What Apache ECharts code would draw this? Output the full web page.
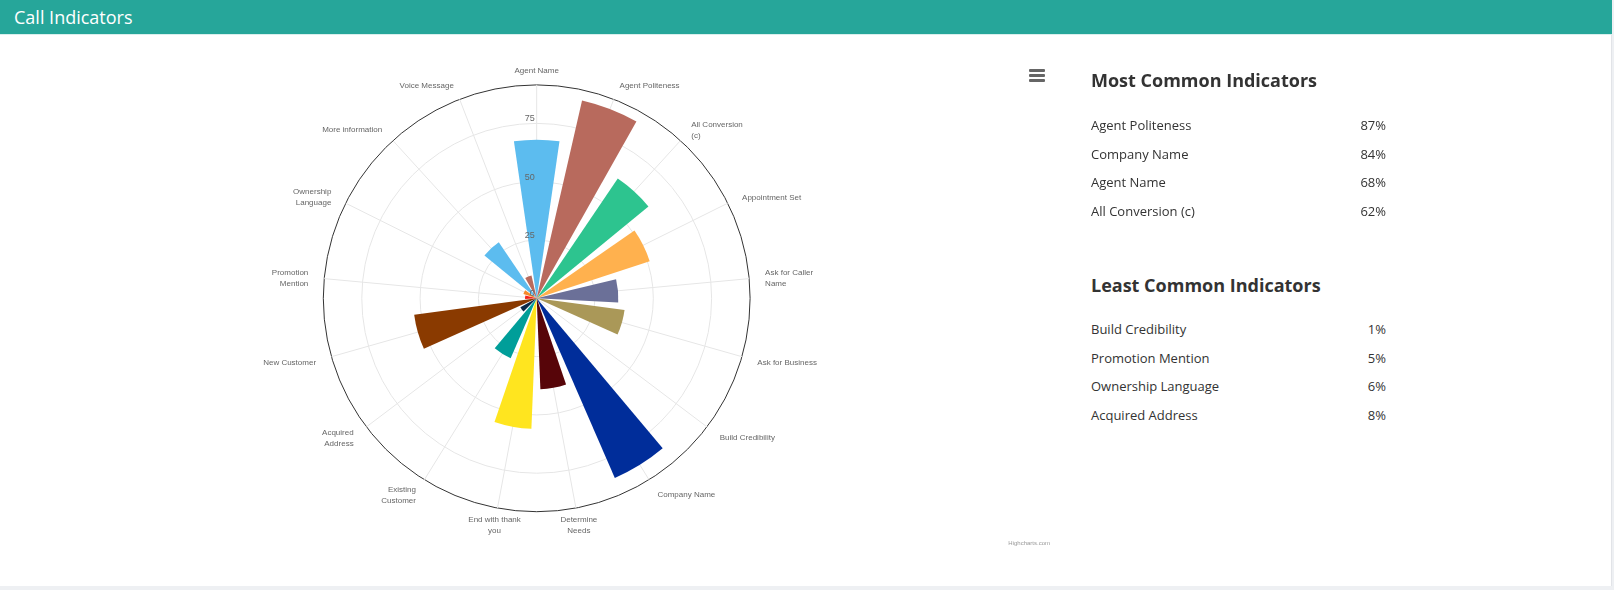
<!DOCTYPE html>
<html>
<head>
<meta charset="utf-8">
<script src="https://cdn.jsdelivr.net/npm/echarts@6/dist/echarts.min.js"></script>
<style>
  html, body { margin: 0; padding: 0; }
  body { width: 1614px; height: 590px; background: #eef0f3; position: relative; overflow: hidden; font-family: "Open Sans", sans-serif; }
  #panel { position: absolute; left: 0; top: 0; width: 1611px; height: 586px; background: #fff; border-right: 1px solid #e2e4e8; }
  #header { position: absolute; left: 0; top: 0; width: 1612px; height: 34px; background: #26a69a; border-bottom: 1px solid #d9efed; }
  #header span { position: absolute; left: 14px; top: 0; line-height: 34px; font-size: 18px; color: #fff; font-family: "Open Sans", sans-serif; }
  #chart { position: absolute; left: 0; top: 0; width: 1060px; height: 586px; }
  #menu { position: absolute; left: 1029px; top: 69px; width: 16px; }
  #menu div { height: 2.5px; background: #666; margin-bottom: 2.5px; border-radius: 1px; }
  .sec h3 { position: absolute; left: 1091px; margin: 0; font-size: 18px; line-height: 24px; font-weight: 700; color: #333; white-space: nowrap; }
  .sec .list { position: absolute; left: 1091px; width: 295px; }
  .row { display: flex; justify-content: space-between; font-size: 13px; line-height: 28.7px; color: #333; }
</style>
</head>
<body>
<div id="panel"></div>
<div id="chart"></div>
<div id="header"><span>Call Indicators</span></div>
<div id="menu"><div></div><div></div><div></div></div>
<div class="sec"><h3 id="h1" style="top:68px">Most Common Indicators</h3><div class="list" id="mostList" style="top:111px"></div></div>
<div class="sec"><h3 id="h2" style="top:273px">Least Common Indicators</h3><div class="list" id="leastList" style="top:315px"></div></div>
<script>
// ---- data ----
const categories = ['Agent Name', 'Agent Politeness', 'All Conversion (c)', 'Appointment Set', 'Ask for Caller Name', 'Ask for Business', 'Build Credibility', 'Company Name', 'Determine Needs', 'End with thank you', 'Existing Customer', 'Acquired Address', 'New Customer', 'Promotion Mention', 'Ownership Language', 'More information', 'Voice Message'];
const categoryLabels = ['Agent Name', 'Agent Politeness', 'All Conversion\n(c)', 'Appointment Set', 'Ask for Caller\nName', 'Ask for Business', 'Build Credibility', 'Company Name', 'Determine\nNeeds', 'End with thank\nyou', 'Existing\nCustomer', 'Acquired\nAddress', 'New Customer', 'Promotion\nMention', 'Ownership\nLanguage', 'More information', 'Voice Message'];
const values = [68, 87, 62, 51, 35, 38, 1, 84, 39, 56, 28, 8, 53, 5, 6, 29, 10];
const colors = ['#5cbcef', '#b86a5d', '#2dc48f', '#ffb14e', '#6b7098', '#aa9858', '#9c9c9c', '#002d9a', '#570509', '#ffe51f', '#009e99', '#0a2a4a', '#8a3a00', '#f5221b', '#f58a2a', '#5cbcef', '#b86a5d'];
const radiusMax = 91.5;
const radiusInterval = 25;
const listCount = 4;

// ---- side lists ----
const idx = categories.map((c, i) => i);
const most = idx.slice().sort((a, b) => values[b] - values[a]).slice(0, listCount);
const least = idx.slice().sort((a, b) => values[a] - values[b]).slice(0, listCount);
function fill(el, arr) {
  el.innerHTML = arr.map(i => '<div class="row"><span>' + categories[i] + '</span><span>' + values[i] + '%</span></div>').join('');
}
fill(document.getElementById('mostList'), most);
fill(document.getElementById('leastList'), least);

// ring colours: light grid rings, dark outer circle at max
const ringCount = Math.floor(radiusMax / radiusInterval) + 1;
const ringColors = [];
for (let i = 0; i < ringCount; i++) ringColors.push('#e6e6e6');
ringColors.push('#333333');

const N = categories.length;
const center = [536.7, 298.3];
const R = 213.4;
const labelDistance = 16;
const labelFont = 'Liberation Sans, Arial, sans-serif';

// ---- chart ----
const chart = echarts.init(document.getElementById('chart'), null, { renderer: 'canvas' });
chart.setOption({
  animation: false,
  polar: [
    { center: center, radius: R },   // grid
    { center: center, radius: R },   // bars + category labels
    { center: center, radius: R }    // radius labels on top
  ],
  angleAxis: [
    {
      polarIndex: 0, type: 'value', min: 0, max: N, interval: 1, startAngle: 90, clockwise: true, z: 0,
      axisLine: { show: false }, axisTick: { show: false }, axisLabel: { show: false },
      splitLine: { show: true, lineStyle: { color: '#e6e6e6', width: 1 } }
    },
    {
      polarIndex: 1, type: 'category', data: categories, boundaryGap: true,
      startAngle: 90 + 180 / N, clockwise: true, z: 1,
      axisLine: { show: false }, axisTick: { show: false }, splitLine: { show: false },
      axisLabel: { show: false }
    },
    {
      polarIndex: 2, type: 'value', min: 0, max: N, startAngle: 90, clockwise: true, show: false
    }
  ],
  radiusAxis: [
    {
      polarIndex: 0, type: 'value', min: 0, max: radiusMax, interval: radiusInterval, z: 0,
      axisLine: { show: false }, axisTick: { show: false }, axisLabel: { show: false },
      splitLine: { show: true, lineStyle: { color: ringColors, width: 1 } }
    },
    {
      polarIndex: 1, type: 'value', min: 0, max: radiusMax, show: false
    },
    {
      polarIndex: 2, type: 'value', min: 0, max: radiusMax, interval: radiusInterval, z: 5,
      axisLine: { show: false }, axisTick: { show: false }, splitLine: { show: false },
      axisLabel: { show: true, showMaxLabel: false, margin: 2, verticalAlign: 'bottom', color: '#666', fontSize: 9, fontFamily: labelFont }
    }
  ],
  series: [
    {
      type: 'bar',
      coordinateSystem: 'polar',
      polarIndex: 1,
      barCategoryGap: '22%',
      data: values.map((v, i) => ({ value: v, itemStyle: { color: colors[i] } })),
      z: 2
    },
    {
      // category labels placed outside the outer circle, centred vertically like the original
      type: 'custom',
      coordinateSystem: 'polar',
      polarIndex: 1,
      silent: true,
      z: 4,
      data: categories.map((c, i) => [radiusMax, i]),
      renderItem: function (params, api) {
        const i = api.value(1);
        const p = api.coord([radiusMax, i]);
        const c = api.coord([0, i]);
        const dx = p[0] - c[0], dy = p[1] - c[1];
        const r = Math.sqrt(dx * dx + dy * dy);
        const ux = dx / r, uy = dy / r;
        const x = p[0] + ux * labelDistance;
        const y = p[1] + uy * labelDistance + 1.5;
        const align = Math.abs(ux) < 0.3 ? 'center' : (ux > 0 ? 'left' : 'right');
        return {
          type: 'text',
          style: {
            x: x, y: y, text: categoryLabels[i], align: align, verticalAlign: 'middle',
            fill: '#666', fontSize: 8, fontFamily: labelFont, lineHeight: 11
          }
        };
      }
    }
  ],
  graphic: [{
    type: 'text',
    right: 10,
    top: 540,
    style: { text: 'Highcharts.com', fill: '#999', fontSize: 6, fontFamily: labelFont }
  }]
});
</script>
</body>
</html>
